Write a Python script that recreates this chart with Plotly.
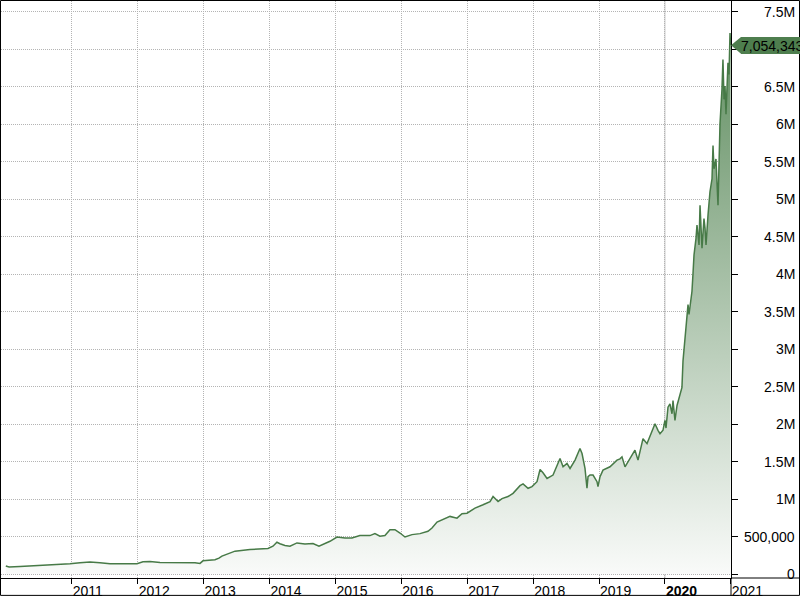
import plotly.graph_objects as go

# ---- data (decimal year, value) ----
years = [
    2010.000, 2010.050, 2010.215, 2010.519, 2010.716, 2010.974, 2011.125, 2011.277, 2011.429, 2011.580,
    2011.808, 2011.990, 2012.081, 2012.187, 2012.339, 2012.490, 2012.718, 2012.870, 2012.946, 2012.991,
    2013.173, 2013.234, 2013.279, 2013.340, 2013.477, 2013.704, 2013.856, 2013.977, 2014.053, 2014.113,
    2014.159, 2014.235, 2014.311, 2014.417, 2014.538, 2014.660, 2014.751, 2014.842, 2014.918, 2015.024,
    2015.145, 2015.251, 2015.372, 2015.524, 2015.600, 2015.676, 2015.752, 2015.828, 2015.904, 2015.980,
    2016.056, 2016.162, 2016.284, 2016.405, 2016.466, 2016.542, 2016.633, 2016.739, 2016.845, 2016.921,
    2016.997, 2017.043, 2017.118, 2017.240, 2017.346, 2017.392, 2017.468, 2017.528, 2017.619, 2017.695,
    2017.801, 2017.847, 2017.923, 2017.983, 2018.059, 2018.105, 2018.150, 2018.211, 2018.302, 2018.408,
    2018.454, 2018.514, 2018.560, 2018.636, 2018.681, 2018.711, 2018.742, 2018.772, 2018.787, 2018.817,
    2018.833, 2018.863, 2018.909, 2018.969, 2018.984, 2019.015, 2019.060, 2019.166, 2019.272, 2019.318,
    2019.348, 2019.394, 2019.470, 2019.545, 2019.591, 2019.667, 2019.728, 2019.803, 2019.849, 2019.894,
    2019.925, 2019.970, 2020.000, 2020.016, 2020.031, 2020.046, 2020.076, 2020.107, 2020.122, 2020.152,
    2020.183, 2020.228, 2020.258, 2020.274, 2020.289, 2020.319, 2020.350, 2020.365, 2020.380, 2020.410,
    2020.426, 2020.441, 2020.471, 2020.486, 2020.517, 2020.532, 2020.562, 2020.592, 2020.608, 2020.623,
    2020.653, 2020.683, 2020.714, 2020.729, 2020.744, 2020.774, 2020.805, 2020.835, 2020.865, 2020.880,
    2020.896, 2020.911, 2020.926, 2020.941, 2020.956, 2020.972, 2020.987, 2020.995,
]
values = [
    106000, 93000, 99000, 113000, 126000, 137000, 152000, 159000, 152000, 137000,
    137000, 137000, 163000, 166000, 155000, 155000, 159000, 152000, 142000, 176000,
    192000, 212000, 239000, 261000, 305000, 327000, 335000, 341000, 371000, 424000,
    404000, 380000, 371000, 415000, 402000, 407000, 371000, 404000, 437000, 494000,
    481000, 481000, 513000, 513000, 539000, 504000, 513000, 592000, 592000, 547000,
    494000, 526000, 539000, 570000, 614000, 693000, 733000, 769000, 746000, 804000,
    812000, 835000, 879000, 924000, 967000, 1034000, 967000, 1007000, 1034000, 1077000,
    1179000, 1202000, 1144000, 1166000, 1232000, 1395000, 1352000, 1276000, 1321000, 1541000,
    1431000, 1475000, 1409000, 1520000, 1630000, 1674000, 1607000, 1458000, 1409000, 1144000,
    1299000, 1321000, 1321000, 1232000, 1166000, 1299000, 1387000, 1431000, 1520000, 1537000,
    1564000, 1431000, 1541000, 1652000, 1520000, 1806000, 1740000, 1895000, 2005000, 1918000,
    1872000, 1918000, 2050000, 1948000, 2071000, 2226000, 2270000, 2138000, 2315000, 2050000,
    2249000, 2381000, 2491000, 2845000, 2999000, 3287000, 3595000, 3463000, 3552000, 3773000,
    4015000, 4258000, 4479000, 4655000, 4390000, 4920000, 4347000, 4744000, 4612000, 4390000,
    4788000, 5098000, 5274000, 5716000, 5407000, 5539000, 4920000, 6003000, 6467000, 6864000,
    6334000, 6511000, 6136000, 6599000, 6821000, 6666000, 7218000, 7054343,
]
last_value = 7054343
last_label = "7,054,343"

x_tick_vals = [2011, 2012, 2013, 2014, 2015, 2016, 2017, 2018, 2019, 2020, 2021]
x_tick_text = ["2011", "2012", "2013", "2014", "2015", "2016", "2017", "2018", "2019", "<b>2020</b>", "2021"]
y_tick_vals = [0, 500000, 1000000, 1500000, 2000000, 2500000, 3000000, 3500000,
               4000000, 4500000, 5000000, 5500000, 6000000, 6500000, 7000000, 7500000]
y_tick_text = ["0", "500,000", "1M", "1.5M", "2M", "2.5M", "3M", "3.5M",
               "4M", "4.5M", "5M", "5.5M", "6M", "6.5M", "7M", "7.5M"]

FONT = "Liberation Sans, Arial, sans-serif"
FS = 14
LINE = "#477a47"
GRID = "#b4b4b4"
BOX = "#4e7e4e"

# layout geometry (pixels)
W, H = 800, 600
ML, MR, MT, MB = 1, 69, 1, 18
PW = W - ML - MR   # 730
PH = H - MT - MB   # 581

fig = go.Figure()
fig.add_trace(go.Scatter(
    x=years, y=values, mode="lines",
    line=dict(color=LINE, width=1.5),
    fill="tozeroy",
    fillgradient=dict(type="vertical",
                      colorscale=[[0, "rgb(250,251,250)"], [1, "rgb(98,143,98)"]],
                      start=0, stop=7200000),
    hoverinfo="skip", showlegend=False,
))

fig.update_layout(
    width=W, height=H, autosize=False,
    margin=dict(l=ML, r=MR, t=MT, b=MB, pad=0),
    paper_bgcolor="white", plot_bgcolor="white",
    font=dict(family=FONT, size=FS, color="#000000"),
    showlegend=False,
    xaxis=dict(
        range=[2009.927, 2021.002],
        tickvals=x_tick_vals, ticktext=x_tick_text,
        ticklabelposition="outside right",
        ticks="outside", ticklen=5, tickcolor="#000000", tickwidth=1,
        showline=True, linecolor="#000000", linewidth=1,
        showgrid=True, gridcolor=GRID, gridwidth=1, griddash="1px,1px",
        zeroline=False, tickfont=dict(family=FONT, size=FS, color="#000000"),
    ),
    yaxis=dict(
        side="right",
        range=[-53000, 7646000],
        tickvals=y_tick_vals, showticklabels=False,
        ticks="outside", ticklen=6, tickcolor="#000000", tickwidth=1,
        showline=True, linecolor="#000000", linewidth=1,
        showgrid=True, gridcolor=GRID, gridwidth=1, griddash="1px,1px",
        zeroline=False,
    ),
)

# right-aligned y tick labels
for v, t in zip(y_tick_vals, y_tick_text):
    fig.add_annotation(
        x=(797 - ML) / PW, xref="paper", y=v, yref="y",
        text=t, showarrow=False, xanchor="right", yanchor="middle",
        font=dict(family=FONT, size=FS, color="#000000"),
    )

shapes = []
# solid gridline at 2020
shapes.append(dict(type="line", xref="x", yref="paper", x0=2020, x1=2020, y0=0, y1=1,
                   line=dict(color="#c4c4c4", width=1), layer="below"))
# outer frame
shapes.append(dict(type="rect", xref="paper", yref="paper",
                   x0=(0.5 - ML) / PW, x1=(W - 0.5 - ML) / PW,
                   y0=-(H - 0.5 - MT - PH) / PH, y1=1 + (MT - 0.5) / PH,
                   line=dict(color="#000000", width=1)))
# x-axis band top line extended across the right margin
shapes.append(dict(type="line", xref="paper", yref="paper", x0=1, x1=(W - ML) / PW, y0=0, y1=0,
                   line=dict(color="#000000", width=1)))
# y-axis line extended down through the x-axis band
shapes.append(dict(type="line", xref="paper", yref="paper", x0=1, x1=1, y0=0, y1=-(MB) / PH,
                   line=dict(color="#000000", width=1)))
# arrow tip of the last-value marker
half = 8.5 * (7646000 + 53000) / PH
body = 1 + 10 / PW
shapes.append(dict(type="path", xref="paper", yref="y",
                   path=f"M 1,{last_value} L {body},{last_value + half} "
                        f"L {body + 1 / PW},{last_value + half} L {body + 1 / PW},{last_value - half} "
                        f"L {body},{last_value - half} Z",
                   fillcolor=BOX, line=dict(width=0)))
fig.update_layout(shapes=shapes)
# last-value box (drawn last so it sits on top of the covered tick label)
fig.add_annotation(x=body, xref="paper", y=last_value, yref="y", text=last_label,
                   showarrow=False, xanchor="left", yanchor="middle", align="left",
                   width=64, height=17, bgcolor=BOX, borderpad=0, borderwidth=0,
                   font=dict(family=FONT, size=FS, color="#000000"))

fig.write_html("out.html", config={"displayModeBar": False, "responsive": False},
               post_script="document.documentElement.style.margin='0px';"
                           "document.body.style.margin='0px';"
                           "document.body.style.overflow='hidden';")
